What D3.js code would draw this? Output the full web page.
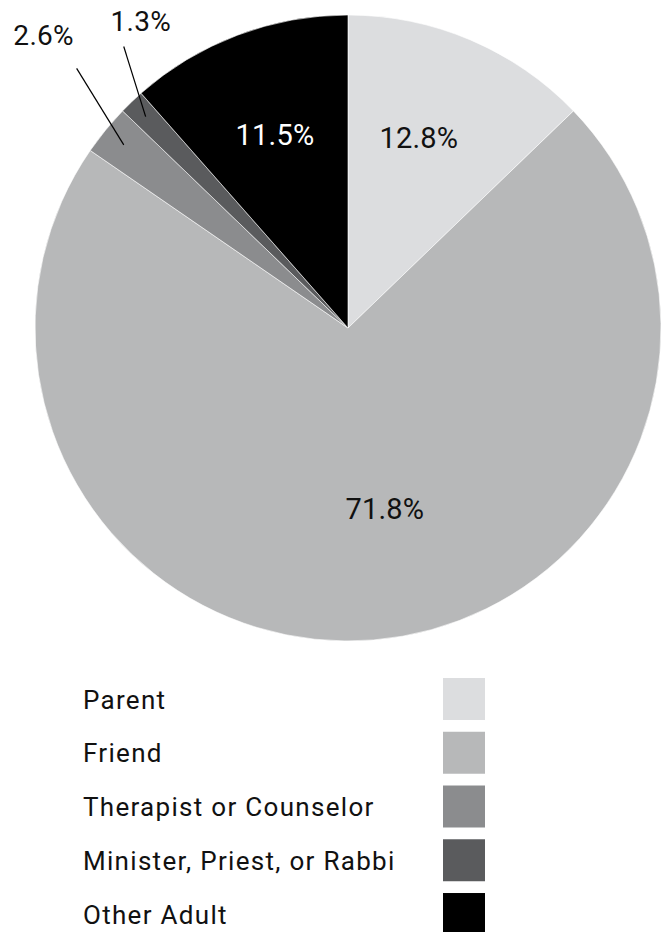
<!DOCTYPE html>
<html>
<head>
<meta charset="utf-8">
<script src="https://cdn.jsdelivr.net/npm/d3@7"></script>
<style>
  html, body { margin: 0; padding: 0; background: #fff; }
  svg { display: block; }
  text { font-family: Roboto, "Noto Sans", sans-serif; }
</style>
</head>
<body>
<svg id="chart" width="667" height="932"></svg>
<script>
// Who students turned to — share of responses (%)
const categories = ["Parent", "Friend", "Therapist or Counselor", "Minister, Priest, or Rabbi", "Other Adult"];
const values = [12.8, 71.8, 2.6, 1.3, 11.5];
const colors = ["#dcdddf", "#b7b8b9", "#8b8c8e", "#5a5b5d", "#000000"];

// Label placement per slice: inside labels sit on a centroid ring,
// small slices get an outside label with a leader line.
const labelLayout = [
  { outside: false, ring: 0.66, nudge: [-10, 0], fill: "#111" },
  { outside: false, ring: 0.58, nudge: [22, 0], fill: "#111" },
  { outside: true, inner: 0.925, outer: 1.2, shift: 4.5, text: [-33, -23] },
  { outside: true, inner: 0.935, outer: 1.15, shift: 5.2, text: [17, -15] },
  { outside: false, ring: 0.66, nudge: [0, 0], fill: "#fff" }
];

const svg = d3.select("#chart");
const cx = 348, cy = 328, R = 313;

const pie = d3.pie().sort(null).value(d => d);
const arcs = pie(values);
const arc = d3.arc().innerRadius(0).outerRadius(R);

const g = svg.append("g").attr("transform", `translate(${cx},${cy})`);

g.selectAll("path.slice")
  .data(arcs)
  .join("path")
  .attr("class", "slice")
  .attr("d", arc)
  .attr("fill", (d, i) => colors[i])
  .attr("stroke", "#fff")
  .attr("stroke-width", 0.6);

const fmt = v => d3.format(".1f")(v) + "%";
const polar = (r, a) => [r * Math.sin(a), -r * Math.cos(a)];

arcs.forEach((d, i) => {
  const L = labelLayout[i];
  const mid = (d.startAngle + d.endAngle) / 2;
  if (!L.outside) {
    const [x, y] = polar(L.ring * R, mid);
    g.append("text")
      .attr("x", x + L.nudge[0])
      .attr("y", y + L.nudge[1])
      .attr("text-anchor", "middle")
      .attr("dominant-baseline", "central")
      .attr("font-size", 29)
      .attr("letter-spacing", 0.2)
      .attr("fill", L.fill)
      .text(fmt(values[i]));
  } else {
    const p0 = polar(L.inner * R, mid);
    const p1 = polar(L.outer * R, mid + L.shift * Math.PI / 180);
    g.append("line")
      .attr("x1", p0[0]).attr("y1", p0[1])
      .attr("x2", p1[0]).attr("y2", p1[1])
      .attr("stroke", "#000")
      .attr("stroke-width", 1.2);
    g.append("text")
      .attr("x", p1[0] + L.text[0])
      .attr("y", p1[1] + L.text[1])
      .attr("text-anchor", "middle")
      .attr("font-size", 28)
      .attr("letter-spacing", 0.3)
      .attr("fill", "#111")
      .text(fmt(values[i]));
  }
});

// Legend: names on the left, swatches in a column on the right
const legendY = d3.scaleBand()
  .domain(categories)
  .range([678, 935])
  .paddingInner(0.219)
  .paddingOuter(0);

const legend = svg.append("g");
const rows = legend.selectAll("g.row")
  .data(categories)
  .join("g")
  .attr("class", "row")
  .attr("transform", d => `translate(0,${legendY(d)})`);

rows.append("rect")
  .attr("x", 443)
  .attr("width", 42)
  .attr("height", legendY.bandwidth())
  .attr("fill", (d, i) => colors[i]);

rows.append("text")
  .attr("x", 83)
  .attr("y", 30.5)
  .attr("font-size", 26)
  .attr("letter-spacing", 1.3)
  .attr("fill", "#111")
  .text(d => d);
</script>
</body>
</html>
